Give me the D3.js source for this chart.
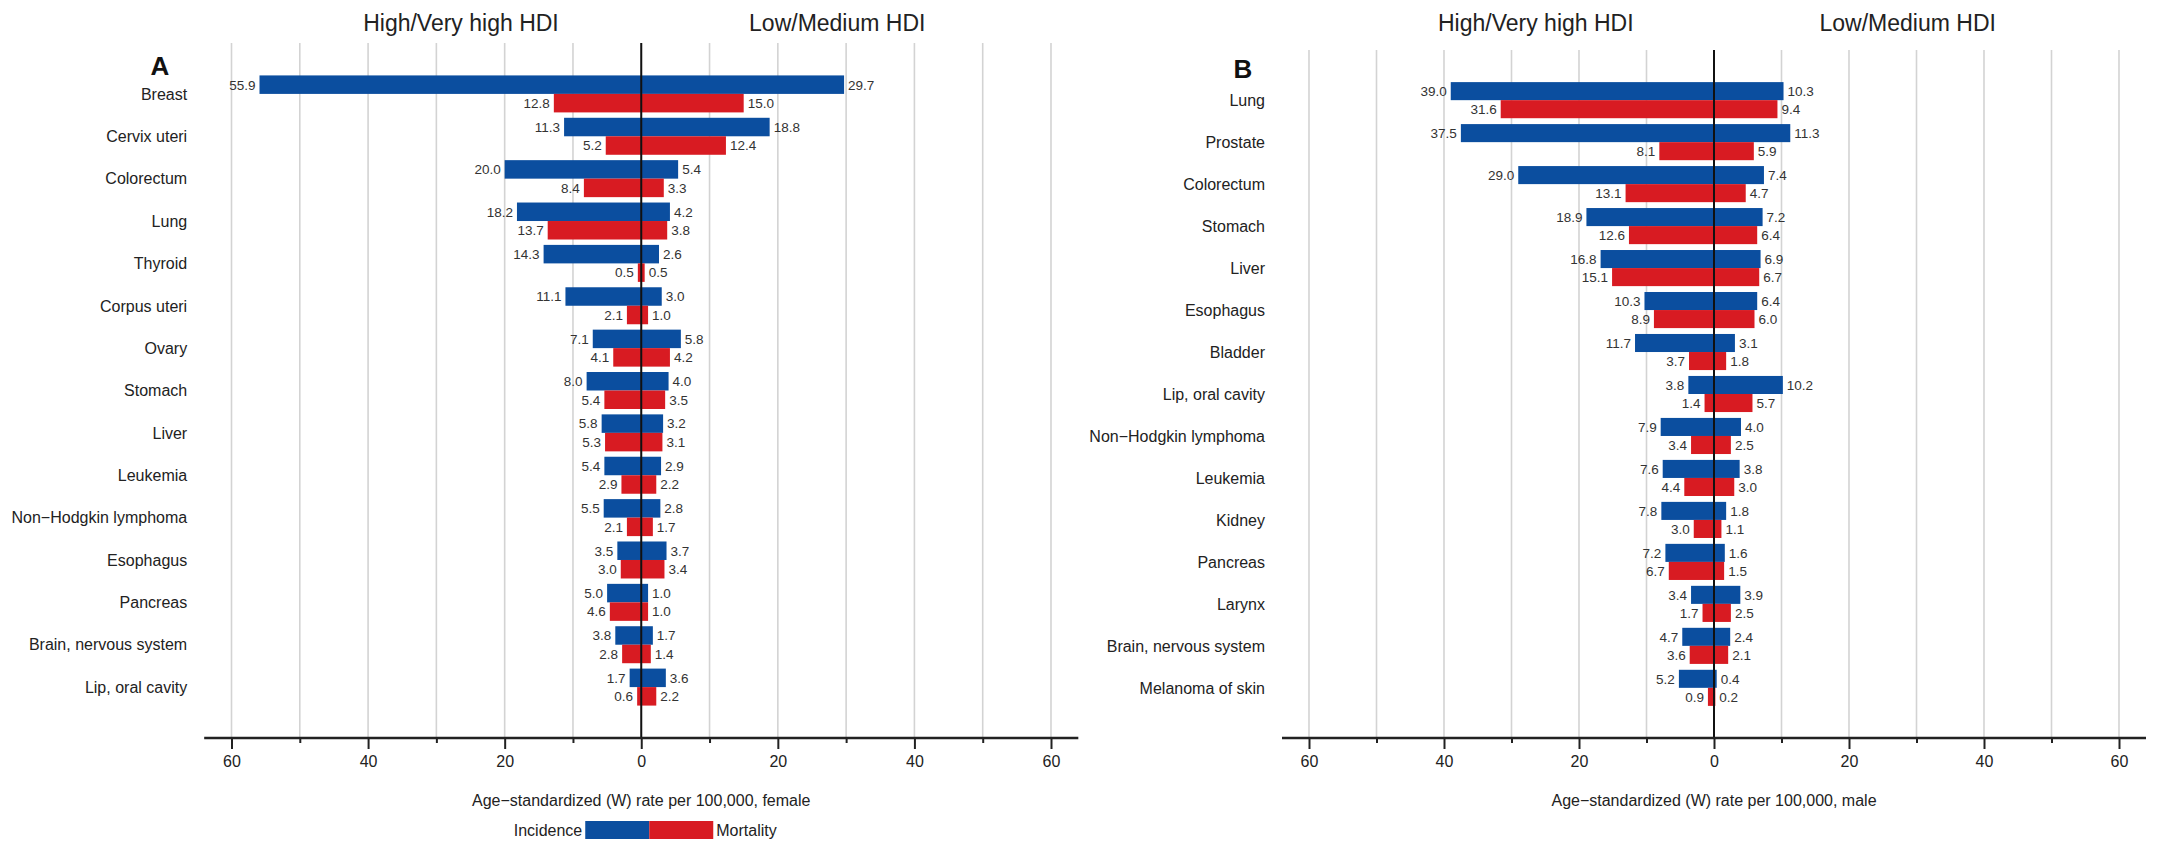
<!DOCTYPE html>
<html>
<head>
<meta charset="utf-8">
<script src="https://cdn.jsdelivr.net/npm/d3@7"></script>
<style>
  body { margin: 0; background: #fff; }
  text { font-family: "Liberation Sans", Arial, Helvetica, sans-serif; }
</style>
</head>
<body>
<svg id="mainsvg" width="2163" height="842"></svg>
<script>
// panel A - female
const catsF = ['Breast', 'Cervix uteri', 'Colorectum', 'Lung', 'Thyroid', 'Corpus uteri', 'Ovary',
  'Stomach', 'Liver', 'Leukemia', 'Non\u2212Hodgkin lymphoma', 'Esophagus', 'Pancreas',
  'Brain, nervous system', 'Lip, oral cavity'];
const incHighF = [55.9, 11.3, 20.0, 18.2, 14.3, 11.1, 7.1, 8.0, 5.8, 5.4, 5.5, 3.5, 5.0, 3.8, 1.7];
const incLowF = [29.7, 18.8, 5.4, 4.2, 2.6, 3.0, 5.8, 4.0, 3.2, 2.9, 2.8, 3.7, 1.0, 1.7, 3.6];
const mortHighF = [12.8, 5.2, 8.4, 13.7, 0.5, 2.1, 4.1, 5.4, 5.3, 2.9, 2.1, 3.0, 4.6, 2.8, 0.6];
const mortLowF = [15.0, 12.4, 3.3, 3.8, 0.5, 1.0, 4.2, 3.5, 3.1, 2.2, 1.7, 3.4, 1.0, 1.4, 2.2];

// panel B - male
const catsM = ['Lung', 'Prostate', 'Colorectum', 'Stomach', 'Liver', 'Esophagus', 'Bladder',
  'Lip, oral cavity', 'Non\u2212Hodgkin lymphoma', 'Leukemia', 'Kidney', 'Pancreas', 'Larynx',
  'Brain, nervous system', 'Melanoma of skin'];
const incHighM = [39.0, 37.5, 29.0, 18.9, 16.8, 10.3, 11.7, 3.8, 7.9, 7.6, 7.8, 7.2, 3.4, 4.7, 5.2];
const incLowM = [10.3, 11.3, 7.4, 7.2, 6.9, 6.4, 3.1, 10.2, 4.0, 3.8, 1.8, 1.6, 3.9, 2.4, 0.4];
const mortHighM = [31.6, 8.1, 13.1, 12.6, 15.1, 8.9, 3.7, 1.4, 3.4, 4.4, 3.0, 6.7, 1.7, 3.6, 0.9];
const mortLowM = [9.4, 5.9, 4.7, 6.4, 6.7, 6.0, 1.8, 5.7, 2.5, 3.0, 1.1, 1.5, 2.5, 2.1, 0.2];

const majorTicks = [-60, -40, -20, 0, 20, 40, 60];
const minorTicks = [-50, -30, -10, 10, 30, 50];
const gridTicks = [-60, -50, -40, -30, -20, -10, 0, 10, 20, 30, 40, 50, 60];

const BLUE = '#0b4e9f';
const RED = '#d81b22';

const svg = d3.select('#mainsvg');
const axisY = 738;

function drawPanel(p) {
  const g = svg.append('g');
  const x = d3.scaleLinear().domain([-60, 60]).range(p.xRange);
  const y = d3.scaleBand().domain(p.cats).range([p.top, axisY])
    .paddingInner(p.padIn).paddingOuter(0.765);
  const bh = y.bandwidth() / 2;

  // grid
  g.selectAll('.grid').data(gridTicks).join('line')
    .attr('x1', d => x(d)).attr('x2', d => x(d))
    .attr('y1', p.top).attr('y2', axisY)
    .attr('stroke', '#d3d3d3').attr('stroke-width', 1.6);

  const rows = p.cats.map((c, i) => ({
    cat: c, ih: p.incHigh[i], il: p.incLow[i], mh: p.mortHigh[i], ml: p.mortLow[i]
  }));

  // incidence (blue, top half) and mortality (red, bottom half)
  const series = [
    {hi: 'ih', lo: 'il', color: BLUE, off: 0},
    {hi: 'mh', lo: 'ml', color: RED, off: 1}
  ];
  series.forEach(s => {
    g.selectAll(null).data(rows).join('rect')
      .attr('x', d => x(-d[s.hi]))
      .attr('width', d => x(d[s.lo]) - x(-d[s.hi]))
      .attr('y', d => y(d.cat) + s.off * bh)
      .attr('height', bh)
      .attr('fill', s.color);
    g.selectAll(null).data(rows).join('text')
      .attr('x', d => x(-d[s.hi]) - 4)
      .attr('y', d => y(d.cat) + s.off * bh + bh / 2)
      .attr('dy', '0.36em')
      .attr('text-anchor', 'end')
      .attr('font-size', 13.5).attr('fill', '#333')
      .text(d => d[s.hi].toFixed(1));
    g.selectAll(null).data(rows).join('text')
      .attr('x', d => x(d[s.lo]) + 4)
      .attr('y', d => y(d.cat) + s.off * bh + bh / 2)
      .attr('dy', '0.36em')
      .attr('text-anchor', 'start')
      .attr('font-size', 13.5).attr('fill', '#333')
      .text(d => d[s.lo].toFixed(1));
  });

  // zero line
  g.append('line')
    .attr('x1', x(0)).attr('x2', x(0))
    .attr('y1', p.top).attr('y2', axisY)
    .attr('stroke', '#111').attr('stroke-width', 2);

  // category labels
  g.selectAll(null).data(p.cats).join('text')
    .attr('x', x(-64) - 17)
    .attr('y', d => y(d) + bh)
    .attr('dy', '0.36em')
    .attr('text-anchor', 'end')
    .attr('font-size', 16).attr('fill', '#222')
    .text(d => d);

  // x axis
  const ax = g.append('g').attr('transform', `translate(0,${axisY})`);
  ax.call(d3.axisBottom(x).tickValues(majorTicks).tickSize(11).tickPadding(7)
    .tickFormat(d => Math.abs(d)));
  ax.append('g').call(d3.axisBottom(x).tickValues(minorTicks).tickSize(5).tickFormat(''));
  ax.selectAll('.domain').remove();
  ax.selectAll('.tick line').attr('stroke', '#222').attr('stroke-width', 2);
  ax.selectAll('.tick text').attr('font-size', 16).attr('fill', '#222')
    .attr('font-family', '"Liberation Sans", Arial, sans-serif');
  ax.append('line')
    .attr('x1', x(-64)).attr('x2', x(64))
    .attr('stroke', '#222').attr('stroke-width', 2.5);

  g.append('text')
    .attr('x', x(0)).attr('y', 800).attr('dy', '0.36em')
    .attr('text-anchor', 'middle').attr('font-size', 16).attr('fill', '#222')
    .text(p.xTitle);

  // group headers
  g.append('text')
    .attr('x', x(-26.4)).attr('y', 23).attr('dy', '0.36em')
    .attr('text-anchor', 'middle').attr('font-size', 23).attr('fill', '#222')
    .text('High/Very high HDI');
  g.append('text')
    .attr('x', x(28.7)).attr('y', 23).attr('dy', '0.36em')
    .attr('text-anchor', 'middle').attr('font-size', 23).attr('fill', '#222')
    .text('Low/Medium HDI');

  g.append('text')
    .attr('x', p.letterX).attr('y', p.letterY).attr('dy', '0.36em')
    .attr('text-anchor', 'middle').attr('font-size', 26).attr('font-weight', 'bold')
    .attr('fill', '#111')
    .text(p.letter);

  return x;
}

const xA = drawPanel({
  cats: catsF, incHigh: incHighF, incLow: incLowF, mortHigh: mortHighF, mortLow: mortLowF,
  xRange: [231.5, 1051], top: 43, padIn: 0.127, letter: 'A', letterX: 160, letterY: 66,
  xTitle: 'Age\u2212standardized (W) rate per 100,000, female'
});
drawPanel({
  cats: catsM, incHigh: incHighM, incLow: incLowM, mortHigh: mortHighM, mortLow: mortLowM,
  xRange: [1309, 2119], top: 50, padIn: 0.14, letter: 'B', letterX: 1243, letterY: 69,
  xTitle: 'Age\u2212standardized (W) rate per 100,000, male'
});

// legend
const leg = svg.append('g');
const lx = xA(0) + 8;
leg.append('rect').attr('x', lx - 64).attr('y', 821).attr('width', 64).attr('height', 18).attr('fill', BLUE);
leg.append('rect').attr('x', lx).attr('y', 821).attr('width', 64).attr('height', 18).attr('fill', RED);
leg.append('text').attr('x', lx - 67).attr('y', 830).attr('dy', '0.36em')
  .attr('text-anchor', 'end').attr('font-size', 16).attr('fill', '#222').text('Incidence');
leg.append('text').attr('x', lx + 67).attr('y', 830).attr('dy', '0.36em')
  .attr('text-anchor', 'start').attr('font-size', 16).attr('fill', '#222').text('Mortality');
</script>
</body>
</html>
